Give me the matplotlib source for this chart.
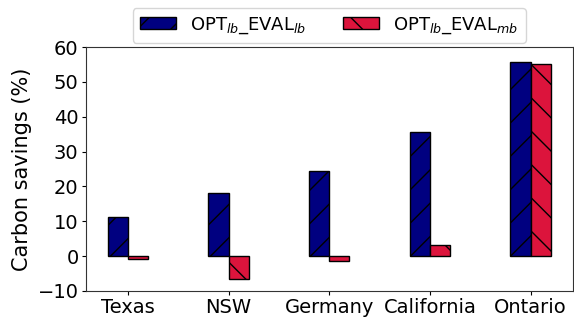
import matplotlib
matplotlib.use("Agg")
import matplotlib.pyplot as plt
import numpy as np

categories = ["Texas", "NSW", "Germany", "California", "Ontario"]
eval_lb = [11.2, 18.0, 24.5, 35.5, 55.7]
eval_mb = [-0.8, -6.5, -1.5, 3.3, 55.1]
labels = [r"OPT$_{lb}$_EVAL$_{lb}$", r"OPT$_{lb}$_EVAL$_{mb}$"]

fig, ax = plt.subplots(figsize=(5.74, 3.18), dpi=100)
x = np.arange(len(categories))
w = 0.2
ax.bar(x - w/2, eval_lb, w, color="navy", edgecolor="black", hatch="/", label=labels[0])
ax.bar(x + w/2, eval_mb, w, color="crimson", edgecolor="black", hatch="\\", label=labels[1])
ax.set_xticks(x)
ax.set_xticklabels(categories, fontsize=14)
ax.set_ylim(-10, 60)
ax.set_yticks(range(-10, 61, 10))
ax.tick_params(axis="both", labelsize=14, length=3, pad=2)
ax.set_ylabel("Carbon savings (%)", fontsize=15)
for s in ax.spines.values():
    s.set_color("#333333")
ax.legend(loc="lower center", bbox_to_anchor=(0.5, 0.98), ncol=2, fontsize=13, frameon=True)
fig.subplots_adjust(left=0.149, right=0.998, top=0.852, bottom=0.085)
fig.savefig("out.png", dpi=100)
